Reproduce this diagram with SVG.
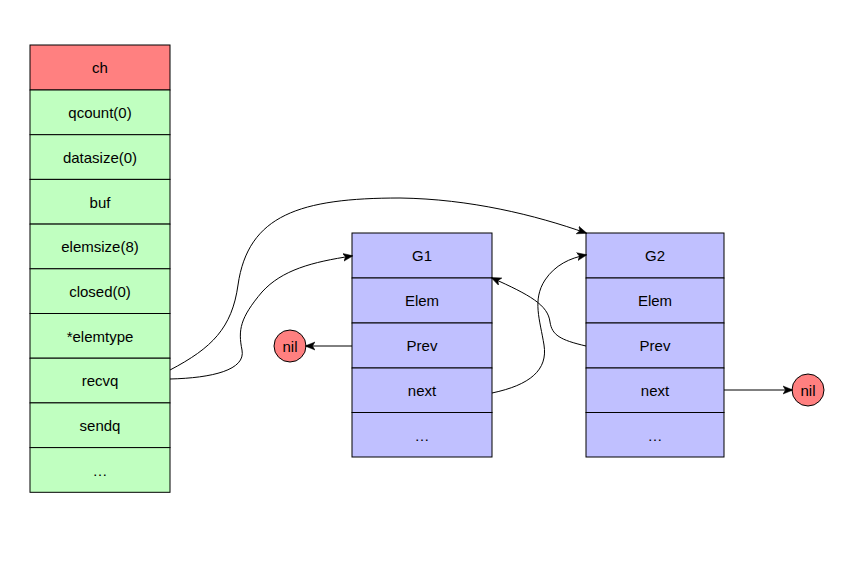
<svg xmlns="http://www.w3.org/2000/svg" width="851" height="563" viewBox="0 0 851 563">
<defs>
<style>
.t{font-family:"Liberation Sans",Arial,Helvetica,sans-serif;font-size:15px;fill:#000;text-anchor:middle;dominant-baseline:central}
.g{fill:#C0FFC0;stroke:#000;stroke-width:1}
.r{fill:#FF8080;stroke:#000;stroke-width:1}
.b{fill:#C0C0FF;stroke:#000;stroke-width:1}
.c{fill:none;stroke:#000;stroke-width:1}
</style>
<marker id="ah" viewBox="0 0 10 10" refX="9" refY="5" markerWidth="10" markerHeight="10" markerUnits="userSpaceOnUse" orient="auto">
<path d="M0,1 L10,5 L0,9 L2.5,5 Z" fill="#000" stroke="#000" stroke-width="0.5"/>
</marker>
</defs>
<rect width="851" height="563" fill="#fff"/>
<g id="ch">
<rect class="r" x="30" y="45" width="140" height="45"/><text class="t" x="100" y="67.5">ch</text>
<rect class="g" x="30" y="90" width="140" height="44.7"/><text class="t" x="100" y="112">qcount(0)</text>
<rect class="g" x="30" y="134.7" width="140" height="44.7"/><text class="t" x="100" y="157">datasize(0)</text>
<rect class="g" x="30" y="179.4" width="140" height="44.7"/><text class="t" x="100" y="202">buf</text>
<rect class="g" x="30" y="224.1" width="140" height="44.7"/><text class="t" x="100" y="246.5">elemsize(8)</text>
<rect class="g" x="30" y="268.8" width="140" height="44.7"/><text class="t" x="100" y="291">closed(0)</text>
<rect class="g" x="30" y="313.5" width="140" height="44.7"/><text class="t" x="100" y="336">*elemtype</text>
<rect class="g" x="30" y="358.2" width="140" height="44.7"/><text class="t" x="100" y="380.5">recvq</text>
<rect class="g" x="30" y="402.9" width="140" height="44.7"/><text class="t" x="100" y="425">sendq</text>
<rect class="g" x="30" y="447.6" width="140" height="44.7"/><text class="t" x="100" y="470">…</text>
</g>
<g id="g1">
<rect class="b" x="352" y="233" width="140" height="45"/><text class="t" x="422" y="255.5">G1</text>
<rect class="b" x="352" y="278" width="140" height="45"/><text class="t" x="422" y="300.5">Elem</text>
<rect class="b" x="352" y="323" width="140" height="45"/><text class="t" x="422" y="345.5">Prev</text>
<rect class="b" x="352" y="368" width="140" height="44.5"/><text class="t" x="422" y="390.5">next</text>
<rect class="b" x="352" y="412.5" width="140" height="44.5"/><text class="t" x="422" y="435">…</text>
</g>
<g id="g2">
<rect class="b" x="586" y="233" width="138" height="45"/><text class="t" x="655" y="255.5">G2</text>
<rect class="b" x="586" y="278" width="138" height="45"/><text class="t" x="655" y="300.5">Elem</text>
<rect class="b" x="586" y="323" width="138" height="45"/><text class="t" x="655" y="345.5">Prev</text>
<rect class="b" x="586" y="368" width="138" height="44.5"/><text class="t" x="655" y="390.5">next</text>
<rect class="b" x="586" y="412.5" width="138" height="44.5"/><text class="t" x="655" y="435">…</text>
</g>
<g id="nil1"><circle class="r" cx="290" cy="346" r="16"/><text class="t" x="290" y="346">nil</text></g>
<g id="nil2"><circle class="r" cx="808" cy="390" r="16"/><text class="t" x="808" y="390">nil</text></g>
<g id="connectors">
<path class="c" marker-end="url(#ah)" d="M170,370 C212,348 232,328 238,285 C248,215 300,198 400,198 C470,199 535,215 586,233"/>
<path class="c" marker-end="url(#ah)" d="M170,379 C212,378 246,370 242,350 C238,330 240,318 262,292 C282,270 312,262 352,256"/>
<path class="c" marker-end="url(#ah)" d="M492,393 C530,385 548,370 544,345 C540,320 532,300 545,280 C555,265 570,258 586,255"/>
<path class="c" marker-end="url(#ah)" d="M586,346 C560,340 552,335 550,322 C548,305 530,295 492,278"/>
<path class="c" marker-end="url(#ah)" d="M352,346 L306,346"/>
<path class="c" marker-end="url(#ah)" d="M724,390 L792,390"/>
</g>
</svg>
